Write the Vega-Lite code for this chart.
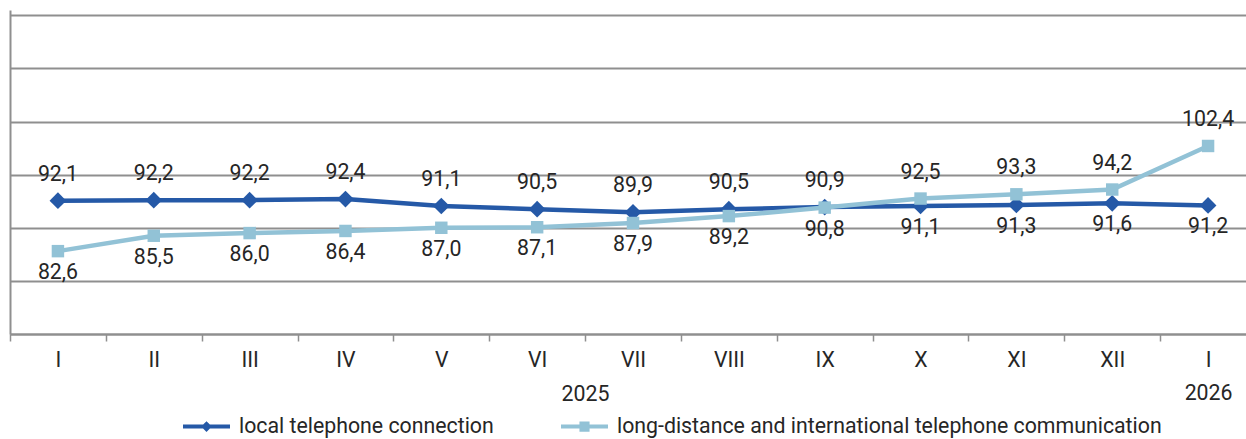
{
  "$schema": "https://vega.github.io/schema/vega-lite/v6.json",
  "width": 1236,
  "height": 324,
  "autosize": {"type": "none"},
  "padding": {"left": 10, "top": 10, "right": 0, "bottom": 105},
  "background": "white",
  "config": {
    "locale": {"number": {"decimal": ",", "thousands": " ", "grouping": [3], "currency": ["", ""]}},
    "font": "Roboto",
    "view": {"stroke": null}
  },
  "data": {
    "values": [
      {"period": "2025-I", "series": "local telephone connection", "value": 92.1},
      {"period": "2025-I", "series": "long-distance and international telephone communication", "value": 82.6},
      {"period": "2025-II", "series": "local telephone connection", "value": 92.2},
      {"period": "2025-II", "series": "long-distance and international telephone communication", "value": 85.5},
      {"period": "2025-III", "series": "local telephone connection", "value": 92.2},
      {"period": "2025-III", "series": "long-distance and international telephone communication", "value": 86.0},
      {"period": "2025-IV", "series": "local telephone connection", "value": 92.4},
      {"period": "2025-IV", "series": "long-distance and international telephone communication", "value": 86.4},
      {"period": "2025-V", "series": "local telephone connection", "value": 91.1},
      {"period": "2025-V", "series": "long-distance and international telephone communication", "value": 87.0},
      {"period": "2025-VI", "series": "local telephone connection", "value": 90.5},
      {"period": "2025-VI", "series": "long-distance and international telephone communication", "value": 87.1},
      {"period": "2025-VII", "series": "local telephone connection", "value": 89.9},
      {"period": "2025-VII", "series": "long-distance and international telephone communication", "value": 87.9},
      {"period": "2025-VIII", "series": "local telephone connection", "value": 90.5},
      {"period": "2025-VIII", "series": "long-distance and international telephone communication", "value": 89.2},
      {"period": "2025-IX", "series": "local telephone connection", "value": 90.9},
      {"period": "2025-IX", "series": "long-distance and international telephone communication", "value": 90.8},
      {"period": "2025-X", "series": "local telephone connection", "value": 91.1},
      {"period": "2025-X", "series": "long-distance and international telephone communication", "value": 92.5},
      {"period": "2025-XI", "series": "local telephone connection", "value": 91.3},
      {"period": "2025-XI", "series": "long-distance and international telephone communication", "value": 93.3},
      {"period": "2025-XII", "series": "local telephone connection", "value": 91.6},
      {"period": "2025-XII", "series": "long-distance and international telephone communication", "value": 94.2},
      {"period": "2026-I", "series": "local telephone connection", "value": 91.2},
      {"period": "2026-I", "series": "long-distance and international telephone communication", "value": 102.4}
    ]
  },
  "encoding": {
    "x": {
      "field": "period",
      "type": "ordinal",
      "sort": null,
      "scale": {"range": [0, 1246], "paddingInner": 0, "paddingOuter": 0},
      "axis": {
        "title": "2025",
        "titleX": 575,
        "titleY": 66,
        "titleAlign": "center",
        "titleBaseline": "alphabetic",
        "titleAnchor": null,
        "titleFont": "Roboto",
        "titleFontSize": 21.3,
        "titleFontWeight": "normal",
        "titleColor": "#262626",
        "labelExpr": "datum.value == '2026-I' ? ['I', '2026'] : split(datum.value, '-')[1]",
        "labelAngle": 0,
        "labelFont": "Roboto",
        "labelFontSize": 21.3,
        "labelColor": "#262626",
        "labelPadding": 8,
        "labelLineHeight": 33,
        "labelBaseline": "top",
        "domain": true,
        "domainColor": "#8f8f8f",
        "domainWidth": 2,
        "ticks": true,
        "tickBand": "extent",
        "tickSize": 7,
        "tickColor": "#8f8f8f",
        "tickWidth": 1.5,
        "grid": false
      }
    },
    "y": {
      "field": "value",
      "type": "quantitative",
      "scale": {"domain": [67, 128], "nice": false, "zero": false},
      "axis": {
        "title": null,
        "labels": false,
        "ticks": false,
        "domain": true,
        "domainColor": "#8f8f8f",
        "domainWidth": 2,
        "grid": true,
        "gridColor": "#8f8f8f",
        "gridWidth": 1.8,
        "values": [67, 77, 87, 97, 107, 117, 127]
      }
    }
  },
  "layer": [
    {
      "transform": [{"filter": "datum.series == 'local telephone connection'"}],
      "mark": {"type": "line", "strokeWidth": 4.5, "color": "#2559A7"}
    },
    {
      "transform": [{"filter": "datum.series == 'local telephone connection'"}],
      "mark": {"type": "point", "shape": "diamond", "filled": true, "size": 280, "opacity": 1, "color": "#2559A7"}
    },
    {
      "transform": [{"filter": "datum.series != 'local telephone connection'"}],
      "mark": {"type": "line", "strokeWidth": 4.5, "color": "#92C2D6"}
    },
    {
      "transform": [{"filter": "datum.series != 'local telephone connection'"}],
      "mark": {"type": "point", "shape": "square", "filled": true, "size": 155, "opacity": 1, "color": "#92C2D6"}
    },
    {
      "transform": [{"filter": "(datum.series == 'local telephone connection') == (indexof(['2025-X','2025-XI','2025-XII','2026-I'], datum.period) < 0)"}],
      "mark": {"type": "text", "dy": -20, "baseline": "alphabetic", "fontSize": 21.3, "font": "Roboto", "color": "#262626"},
      "encoding": {"text": {"field": "value", "type": "quantitative", "format": ".1f"}}
    },
    {
      "transform": [{"filter": "(datum.series == 'local telephone connection') != (indexof(['2025-X','2025-XI','2025-XII','2026-I'], datum.period) < 0)"}],
      "mark": {"type": "text", "dy": 28, "baseline": "alphabetic", "fontSize": 21.3, "font": "Roboto", "color": "#262626"},
      "encoding": {"text": {"field": "value", "type": "quantitative", "format": ".1f"}}
    },
    {
      "mark": {"type": "point", "filled": true, "opacity": 0},
      "encoding": {
        "color": {
          "field": "series",
          "type": "nominal",
          "scale": {
            "domain": ["local telephone connection", "long-distance and international telephone communication"],
            "range": ["#2559A7", "#92C2D6"]
          },
          "legend": {
            "title": null,
            "orient": "none",
            "legendX": 173,
            "legendY": 393,
            "direction": "horizontal",
            "padding": 0,
            "labelFont": "Roboto",
            "labelFontSize": 21.3,
            "labelColor": "#262626",
            "labelLimit": 1000,
            "labelOffset": 9,
            "columnPadding": 67,
            "symbolSize": 2209,
            "symbolOpacity": 1,
            "symbolStrokeWidth": 0
          }
        },
        "shape": {
          "field": "series",
          "type": "nominal",
          "scale": {
            "domain": ["local telephone connection", "long-distance and international telephone communication"],
            "range": [
              "M-1,-0.085H1V0.085H-1Z M0,-0.23L0.23,0L0,0.23L-0.23,0Z",
              "M-1,-0.085H1V0.085H-1Z M-0.215,-0.215H0.215V0.215H-0.215Z"
            ]
          },
          "legend": {
            "title": null,
            "orient": "none",
            "legendX": 173,
            "legendY": 393,
            "direction": "horizontal",
            "padding": 0,
            "labelFont": "Roboto",
            "labelFontSize": 21.3,
            "labelColor": "#262626",
            "labelLimit": 1000,
            "labelOffset": 9,
            "columnPadding": 67,
            "symbolSize": 2209,
            "symbolOpacity": 1,
            "symbolStrokeWidth": 0
          }
        }
      }
    }
  ]
}
